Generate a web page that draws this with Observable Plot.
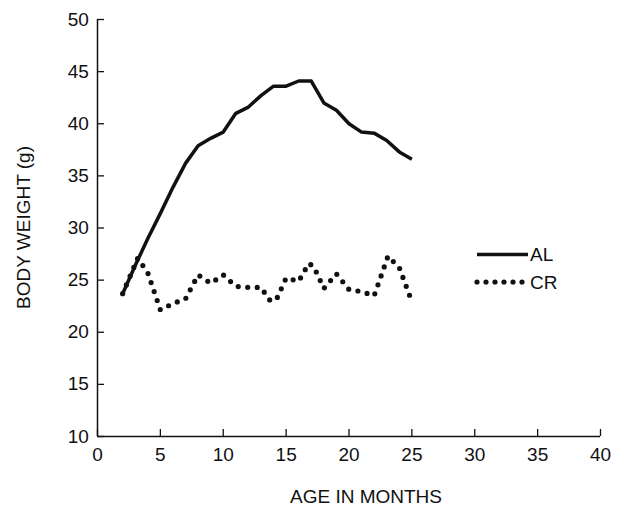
<!DOCTYPE html>
<html>
<head>
<meta charset="utf-8">
<script src="https://cdn.jsdelivr.net/npm/d3@7"></script>
<script src="https://cdn.jsdelivr.net/npm/@observablehq/plot@0.6"></script>
<style>
  html, body { margin: 0; padding: 0; background: #fff; }
  #chart { width: 624px; height: 517px; }
</style>
</head>
<body>
<div id="chart"></div>
<script>
// Ad libitum (AL) group
const alMonths = [2, 3, 4, 5, 6, 7, 8, 9, 10, 11, 12, 13, 14, 15, 16, 17, 18, 19, 20, 21, 22, 23, 24, 25];
const alWeight = [23.7, 26.4, 29.0, 31.4, 33.9, 36.2, 37.9, 38.6, 39.2, 41.0, 41.6, 42.7, 43.6, 43.6, 44.1, 44.1, 42.0, 41.3, 40.0, 39.2, 39.1, 38.4, 37.3, 36.6];
// Caloric restriction (CR) group
const crMonths = [2, 3.2, 4, 5, 6, 7, 8, 9, 10, 11, 12, 13, 13.75, 14.25, 15, 16, 16.8, 17.2, 18, 19, 20, 21, 22, 23.1, 24, 24.95];
const crWeight = [23.7, 27.1, 25.7, 22.15, 22.75, 23.2, 25.5, 24.7, 25.5, 24.4, 24.3, 24.3, 23.0, 23.2, 25.2, 24.9, 26.6, 26.3, 24.2, 25.6, 24.1, 23.9, 23.5, 27.3, 26.2, 23.1];

const xTicks = [0, 5, 10, 15, 20, 25, 30, 35, 40];
const yTicks = [10, 15, 20, 25, 30, 35, 40, 45, 50];
const xTitle = "AGE IN MONTHS";
const yTitle = "BODY WEIGHT (g)";
const seriesNames = ["AL", "CR"];

const alData = alMonths.map((m, i) => ({month: m, weight: alWeight[i]}));
const crData = crMonths.map((m, i) => ({month: m, weight: crWeight[i]}));

const FONT = "'Liberation Sans', Arial, Helvetica, sans-serif";
const INK = "#111";

const chart = Plot.plot({
  width: 624,
  height: 517,
  marginLeft: 97,
  marginRight: 24,
  marginTop: 19,
  marginBottom: 81,
  style: {fontFamily: FONT, fontSize: "19px", color: INK, background: "#fff", overflow: "visible"},
  x: {domain: [0, 40]},
  y: {domain: [10, 50]},
  marks: [
    Plot.axisX({ticks: xTicks, tickSize: -7, tickPadding: 17.5, strokeWidth: 1.3, label: null, fontSize: 19}),
    Plot.axisY({ticks: yTicks, tickSize: -7, tickPadding: 15.7, strokeWidth: 1.3, label: null, fontSize: 19}),
    Plot.ruleX([0], {stroke: INK, strokeWidth: 1.5}),
    Plot.ruleY([10], {stroke: INK, strokeWidth: 1.5}),
    Plot.line(alData, {x: "month", y: "weight", stroke: INK, strokeWidth: 3.5, strokeLinejoin: "round", strokeLinecap: "butt"}),
    Plot.line(crData, {x: "month", y: "weight", stroke: INK, strokeWidth: 5.2, strokeLinecap: "round", strokeDasharray: "0,9.5"}),
    Plot.text([xTitle], {frameAnchor: "bottom", dx: 17, dy: 60, fontSize: 19, fill: INK, lineAnchor: "middle"})
  ]
});

const svg = d3.select(chart);

// Rotated y-axis title, centred on the plotting area
svg.append("text")
  .attr("transform", "translate(23,227.5) rotate(-90)")
  .attr("text-anchor", "middle")
  .attr("dy", "0.35em")
  .attr("font-family", FONT)
  .attr("font-size", 19)
  .attr("fill", INK)
  .text(yTitle);

// Legend inside the plotting area
const lg = svg.append("g")
  .attr("font-family", FONT).attr("font-size", 19).attr("fill", INK)
  .attr("text-anchor", "start");
const legendRows = [
  {name: seriesNames[0], y: 254.5, width: 3.5, dash: null, cap: "butt", x2: 528},
  {name: seriesNames[1], y: 282, width: 5.2, dash: "0,9", cap: "round", x2: 523}
];
legendRows.forEach(r => {
  lg.append("line")
    .attr("x1", 477).attr("x2", r.x2).attr("y1", r.y).attr("y2", r.y)
    .attr("stroke", INK).attr("stroke-width", r.width)
    .attr("stroke-linecap", r.cap)
    .attr("stroke-dasharray", r.dash);
  lg.append("text").attr("x", 530).attr("y", r.y).attr("dy", "0.35em").attr("text-anchor", "start").text(r.name);
});

document.getElementById("chart").appendChild(chart);
</script>
</body>
</html>
